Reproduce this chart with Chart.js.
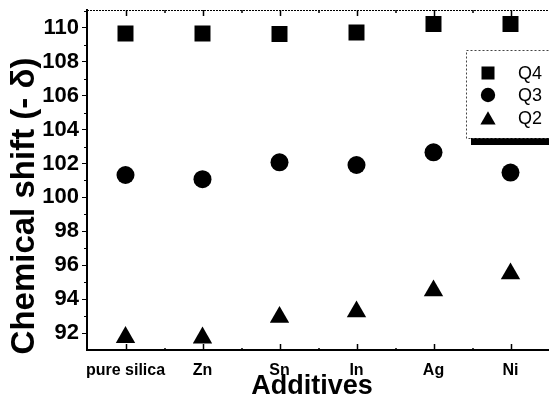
<!DOCTYPE html>
<html>
<head>
<meta charset="utf-8">
<script src="https://cdn.jsdelivr.net/npm/chart.js@4.4.0/dist/chart.umd.min.js"></script>
<style>
  html, body { margin: 0; padding: 0; background: #fff; overflow: hidden; }
  #wrap { width: 549px; height: 399px; position: relative; }
  canvas { display: block; }
</style>
</head>
<body>
<div id="wrap"><canvas id="chart"></canvas></div>
<script>
// datos
const additives = ['pure silica', 'Zn', 'Sn', 'In', 'Ag', 'Ni'];
const q4 = [109.66, 109.66, 109.64, 109.72, 110.22, 110.22];
const q3 = [101.32, 101.07, 102.07, 101.91, 102.66, 101.46];
const q2 = [91.75, 91.72, 92.94, 93.26, 94.5, 95.5];
const yTicks = [92, 94, 96, 98, 100, 102, 104, 106, 108, 110];
const yMinor = [91, 93, 95, 97, 99, 101, 103, 105, 107, 109, 111];
const yTitle = 'Chemical shift (- δ)';
const xTitle = 'Additives';

const FONT = 'Arial, "Liberation Sans", sans-serif';

// ejes extra, títulos y leyenda dibujados a mano
const extras = {
    id: 'extras',
    afterDraw(chart) {
        const ctx = chart.ctx;
        const area = chart.chartArea;
        const xs = chart.scales.x;
        const ys = chart.scales.y;
        ctx.save();
        ctx.strokeStyle = '#000';
        ctx.fillStyle = '#000';

        // borde superior punteado
        ctx.lineWidth = 1;
        ctx.setLineDash([2, 1]);
        ctx.beginPath();
        ctx.moveTo(area.left, area.top + 0.5);
        ctx.lineTo(area.right, area.top + 0.5);
        ctx.stroke();
        ctx.setLineDash([]);

        // marcas en x (arriba y abajo)
        ctx.lineWidth = 1.5;
        const step = xs.getPixelForValue(1) - xs.getPixelForValue(0);
        additives.forEach((c, i) => {
            const px = Math.round(xs.getPixelForValue(i)) + 0.5;
            ctx.beginPath();
            ctx.moveTo(px, area.top);
            ctx.lineTo(px, area.top + 6);
            ctx.moveTo(px, area.bottom);
            ctx.lineTo(px, area.bottom - 6);
            ctx.stroke();
            const mid = px + step / 2;
            ctx.beginPath();
            ctx.moveTo(mid, area.top);
            ctx.lineTo(mid, area.top + 3);
            ctx.moveTo(mid, area.bottom);
            ctx.lineTo(mid, area.bottom - 2);
            ctx.stroke();
        });

        // marcas menores en y
        ctx.lineWidth = 1;
        yMinor.forEach(v => {
            const py = Math.round(ys.getPixelForValue(v)) + 0.5;
            if (py < area.top || py > area.bottom) return;
            ctx.beginPath();
            ctx.moveTo(area.left, py);
            ctx.lineTo(area.left - 3, py);
            ctx.stroke();
        });

        // títulos
        ctx.font = 'bold 33px ' + FONT;
        ctx.textAlign = 'center';
        ctx.textBaseline = 'middle';
        ctx.save();
        ctx.translate(25, 206);
        ctx.rotate(-Math.PI / 2);
        ctx.fillText(yTitle, 0, 0);
        ctx.restore();

        ctx.font = 'bold 27px ' + FONT;
        ctx.textBaseline = 'alphabetic';
        ctx.fillText(xTitle, 312, 394);

        // leyenda con sombra
        const lx = 466, ly = 50, lw = 84, lh = 88;
        ctx.fillRect(lx + 5, ly + 7, lw, lh);
        ctx.fillStyle = '#fff';
        ctx.fillRect(lx, ly, lw, lh);
        ctx.strokeStyle = '#444';
        ctx.lineWidth = 1;
        ctx.setLineDash([2, 2]);
        ctx.strokeRect(lx + 0.5, ly + 0.5, lw, lh);
        ctx.setLineDash([]);

        const rows = [73, 95, 118];
        const radii = [9.2, 7.2, 8.8];
        ctx.font = '18px ' + FONT;
        ctx.textAlign = 'left';
        ctx.textBaseline = 'middle';
        chart.data.datasets.forEach((ds, i) => {
            ctx.fillStyle = '#000';
            ctx.strokeStyle = '#000';
            Chart.helpers.drawPoint(ctx, {
                pointStyle: ds.pointStyle,
                radius: radii[i],
                borderWidth: 0
            }, 488, rows[i] + (ds.pointStyle === 'triangle' ? 2 : 0));
            ctx.fillText(ds.label, 518, rows[i] + 1);
        });

        ctx.restore();
    }
};

const ctx = document.getElementById('chart').getContext('2d');

new Chart(ctx, {
    type: 'line',
    data: {
        labels: additives,
        datasets: [
            {
                label: 'Q4',
                data: q4,
                showLine: false,
                pointStyle: 'rect',
                pointRadius: 11.3,
                backgroundColor: '#000',
                borderColor: '#000',
                borderWidth: 0
            },
            {
                label: 'Q3',
                data: q3,
                showLine: false,
                pointStyle: 'circle',
                pointRadius: 9,
                backgroundColor: '#000',
                borderColor: '#000',
                borderWidth: 0
            },
            {
                label: 'Q2',
                data: q2,
                showLine: false,
                pointStyle: 'triangle',
                pointRadius: 11.2,
                backgroundColor: '#000',
                borderColor: '#000',
                borderWidth: 0
            }
        ]
    },
    options: {
        responsive: true,
        maintainAspectRatio: false,
        animation: false,
        layout: {
            autoPadding: false,
            padding: { top: 10, right: -2, left: 0, bottom: 0 }
        },
        plugins: {
            legend: { display: false },
            tooltip: { enabled: false }
        },
        scales: {
            x: {
                type: 'category',
                offset: true,
                grid: { display: false },
                border: { display: true, color: '#000', width: 2 },
                ticks: {
                    color: '#000',
                    padding: 3,
                    maxRotation: 0,
                    autoSkip: false,
                    font: { family: FONT, size: 16, weight: 'bold' }
                },
                afterFit: scale => {
                    scale.height = 49;
                    scale.paddingLeft = 0;
                    scale.paddingRight = 0;
                }
            },
            y: {
                min: 91,
                max: 111.05,
                grid: {
                    drawOnChartArea: false,
                    color: '#000',
                    tickLength: 5,
                    lineWidth: 1
                },
                border: { display: true, color: '#000', width: 2 },
                ticks: {
                    color: '#000',
                    padding: 3,
                    font: { family: FONT, size: 22, weight: 'bold' }
                },
                afterBuildTicks: scale => {
                    scale.ticks = yTicks.map(v => ({ value: v }));
                },
                afterFit: scale => {
                    scale.width = 87;
                    scale.paddingTop = 0;
                    scale.paddingBottom = 0;
                }
            }
        }
    },
    plugins: [extras]
});
</script>
</body>
</html>
